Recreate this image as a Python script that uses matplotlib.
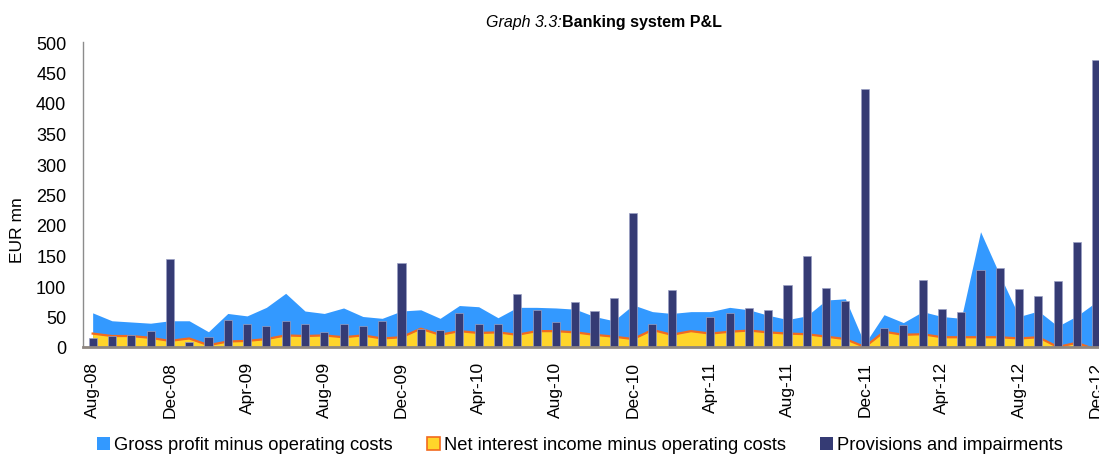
import matplotlib
matplotlib.use("Agg")
import matplotlib.pyplot as plt
import numpy as np
from matplotlib.patches import Patch

# months Aug-08 .. Dec-12
months = ['Aug-08', 'Sep-08', 'Oct-08', 'Nov-08', 'Dec-08', 'Jan-09', 'Feb-09', 'Mar-09',
          'Apr-09', 'May-09', 'Jun-09', 'Jul-09', 'Aug-09', 'Sep-09', 'Oct-09', 'Nov-09',
          'Dec-09', 'Jan-10', 'Feb-10', 'Mar-10', 'Apr-10', 'May-10', 'Jun-10', 'Jul-10',
          'Aug-10', 'Sep-10', 'Oct-10', 'Nov-10', 'Dec-10', 'Jan-11', 'Feb-11', 'Mar-11',
          'Apr-11', 'May-11', 'Jun-11', 'Jul-11', 'Aug-11', 'Sep-11', 'Oct-11', 'Nov-11',
          'Dec-11', 'Jan-12', 'Feb-12', 'Mar-12', 'Apr-12', 'May-12', 'Jun-12', 'Jul-12',
          'Aug-12', 'Sep-12', 'Oct-12', 'Nov-12', 'Dec-12']

gross_profit = [56, 43, 41, 39, 43, 43, 25, 55, 51, 65, 88, 59, 55, 64, 50, 47,
                59, 61, 47, 68, 66, 48, 65, 65, 64, 62, 50, 43, 69, 58, 55, 58,
                58, 65, 61, 52, 45, 51, 77, 79, 5, 53, 40, 58, 50, 47, 189, 118,
                50, 59, 34, 51, 74]

net_interest = [22, 18, 18, 15, 10, 14, 3, 9, 10, 13, 19, 18, 19, 16, 19, 14,
                16, 30, 20, 26, 23, 24, 20, 26, 26, 24, 20, 17, 13, 28, 20, 26,
                22, 25, 27, 24, 22, 21, 17, 13, 0, 25, 20, 21, 16, 16, 16, 16,
                14, 16, 0, 7, -5]

provisions = [14, 18, 19, 27, 145, 8, 16, 45, 37, 35, 42, 37, 24, 37, 34, 43,
              138, 30, 28, 55, 37, 37, 87, 61, 41, 74, 59, 80, 220, 37, 94, -2,
              49, 56, 64, 61, 102, 150, 96, 75, 423, 31, 36, 110, 62, 57, 127, 129,
              95, 84, 108, 172, 470]

legend_labels = ['Gross profit minus operating costs',
                 'Net interest income minus operating costs',
                 'Provisions and impairments']

plt.rcParams['font.family'] = ['Liberation Sans', 'DejaVu Sans']

W, H = 1099, 456
fig = plt.figure(figsize=(W / 100, H / 100), dpi=100)
# plot area; the right edge runs past the figure like the cropped original
ax = fig.add_axes([83 / W, 108 / H, 1023 / W, 305 / H])

x = np.arange(len(months))
ax.fill_between(x, 0, gross_profit, color='#3399ff', linewidth=0, zorder=1)
ax.fill_between(x, 0, net_interest, color='#ffd52a', linewidth=0, zorder=2)
ax.plot(x, net_interest, color='#f26a1f', linewidth=1.6, zorder=3)
ax.bar(x, provisions, width=0.42, color='#353b74', edgecolor='#9aa0c4',
       linewidth=0.5, zorder=4)

ax.set_xlim(-0.5, 52.5)
ax.set_ylim(0, 500)
ax.set_yticks(np.arange(0, 501, 50))
ax.tick_params(axis='y', length=0, pad=12, labelsize=13)
ax.set_xticks(x[::4])
ax.set_xticklabels(months[::4], rotation=90, fontsize=12.5)
ax.tick_params(axis='x', length=0, pad=10)

for side in ['top', 'right']:
    ax.spines[side].set_visible(False)
ax.spines['left'].set_color('#8c8c8c')
ax.spines['left'].set_linewidth(1.0)
ax.spines['bottom'].set_color('#8e8680')
ax.spines['bottom'].set_linewidth(2.0)
ax.spines['bottom'].set_zorder(5)

fig.text(17 / W, 1 - 230 / H, 'EUR mn', rotation=90, ha='center', va='center',
         fontsize=12.5)

fig.text(562 / W, 1 - 22 / H, 'Graph 3.3:', style='italic', ha='right',
         va='center', fontsize=11.5)
fig.text(562 / W, 1 - 22 / H, 'Banking system P&L', weight='bold', ha='left',
         va='center', fontsize=11.5)

handles = [Patch(facecolor='#3399ff', edgecolor='none'),
           Patch(facecolor='#ffd52a', edgecolor='#f26a1f', linewidth=1.2),
           Patch(facecolor='#353b74', edgecolor='none')]
fig.legend(handles, legend_labels, loc='center', bbox_to_anchor=(580 / W, 1 - 446 / H),
           ncol=3, frameon=False, handlelength=0.7, handleheight=0.7,
           handletextpad=0.2, columnspacing=1.9,
           prop={'family': ['Liberation Sans'], 'size': 13.2})

fig.savefig('out.png', dpi=100)
